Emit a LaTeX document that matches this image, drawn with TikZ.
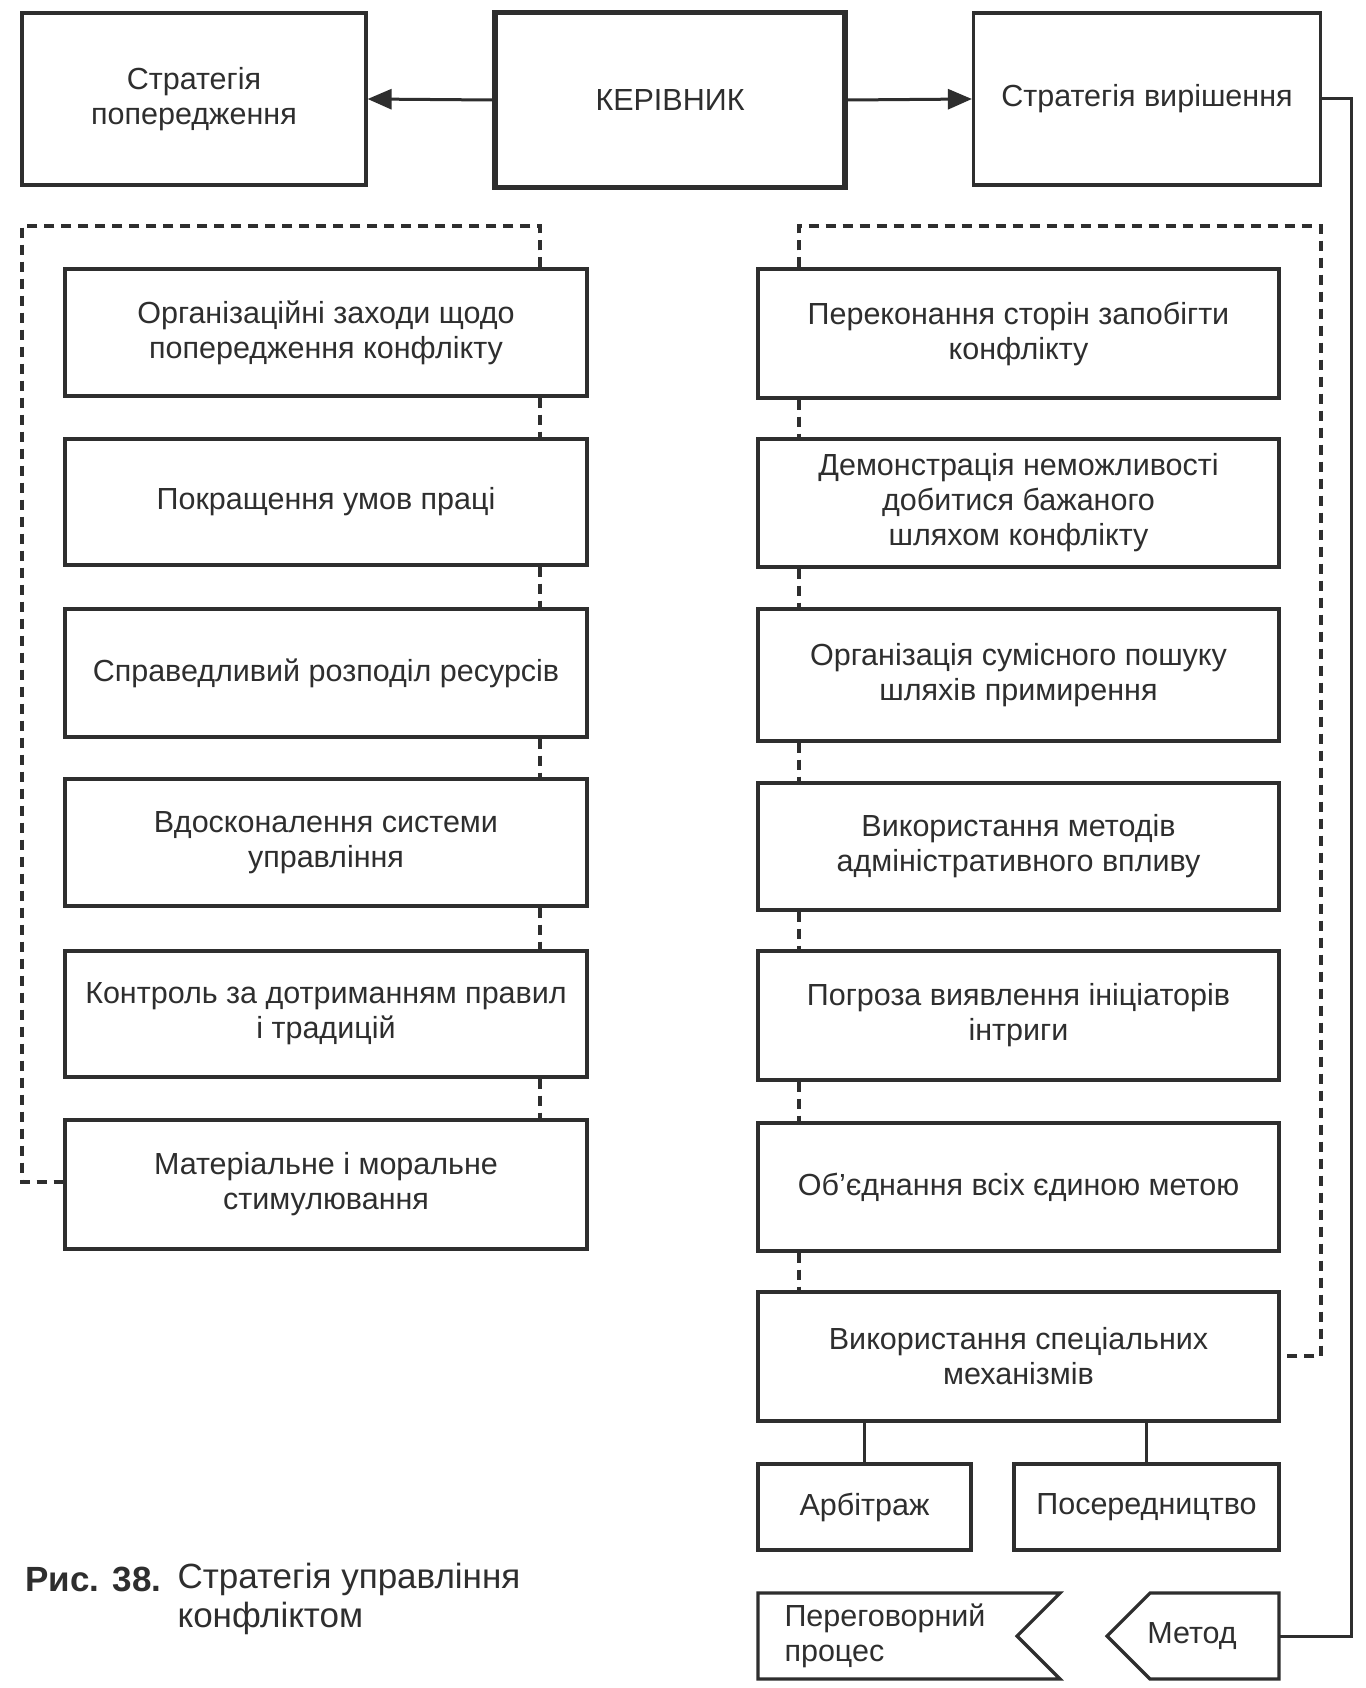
\documentclass[tikz,border=0pt]{standalone}
\usepackage{fontspec}
\setmainfont{Liberation Sans}
\usetikzlibrary{arrows.meta}
\definecolor{ink}{HTML}{2E2E2E}
\begin{document}
\begin{tikzpicture}[x=1pt,y=-1pt,
  every node/.style={text=ink, font=\fontsize{30.5}{35}\selectfont},
  box/.style={draw=ink, line width=3.2pt, inner sep=0pt, align=center},
  bossbox/.style={box, line width=5.5pt},
  conn/.style={draw=ink, line width=3pt},
  arr/.style={conn, -{Triangle[length=24pt,width=20pt]}},
  dashline/.style={draw=ink, line width=3.8pt, dash pattern=on 10pt off 7pt},
  capt/.style={anchor=west, font=\fontsize{35}{39}\selectfont}]
\useasboundingbox (0,0) rectangle (1365,1688);
\fill[white] (0,0) rectangle (1365,1688);

% top row
\node[box, minimum width=344pt, minimum height=172pt] (P0) at (194,99) {Стратегія\\попередження};
\node[bossbox, minimum width=350pt, minimum height=175pt] (K) at (670,100) {КЕРІВНИК};
\node[box, minimum width=347pt, minimum height=172pt] (R0) at (1147,99) {Стратегія вирішення};
\draw[arr] (K.west) -- (P0.east);
\draw[arr] (K.east) -- (R0.west);

% left column
\coordinate (xL) at (540,0);
\node[box, minimum width=522pt, minimum height=127pt] (L1) at (326,332.5) {Організаційні заходи щодо\\попередження конфлікту};
\node[box, minimum width=522pt, minimum height=126pt] (L2) at (326,502) {Покращення умов праці};
\node[box, minimum width=522pt, minimum height=128pt] (L3) at (326,673) {Справедливий розподіл ресурсів};
\node[box, minimum width=522pt, minimum height=127pt] (L4) at (326,842.5) {Вдосконалення системи\\управління};
\node[box, minimum width=522pt, minimum height=126pt] (L5) at (326,1014) {Контроль за дотриманням правил\\і традицій};
\node[box, minimum width=522pt, minimum height=129pt] (L6) at (326,1184.5) {Матеріальне і моральне\\стимулювання};

% right column
\coordinate (xR) at (799,0);
\node[box, minimum width=521pt, minimum height=129pt] (R1) at (1018.5,333.5) {Переконання сторін запобігти\\конфлікту};
\node[box, minimum width=521pt, minimum height=128pt] (R2) at (1018.5,503) {Демонстрація неможливості\\добитися бажаного\\шляхом конфлікту};
\node[box, minimum width=521pt, minimum height=132pt] (R3) at (1018.5,675) {Організація сумісного пошуку\\шляхів примирення};
\node[box, minimum width=521pt, minimum height=127pt] (R4) at (1018.5,846.5) {Використання методів\\адміністративного впливу};
\node[box, minimum width=521pt, minimum height=129pt] (R5) at (1018.5,1015.5) {Погроза виявлення ініціаторів\\інтриги};
\node[box, minimum width=521pt, minimum height=128pt] (R6) at (1018.5,1187) {Об’єднання всіх єдиною метою};
\node[box, minimum width=521pt, minimum height=129pt] (R7) at (1018.5,1356.5) {Використання спеціальних\\механізмів};

\node[box, minimum width=213pt, minimum height=86pt] (A) at (864.5,1507) {Арбітраж};
\node[box, minimum width=265pt, minimum height=86pt] (S) at (1146.5,1507) {Посередництво};
\draw[conn] (A.north |- R7.south) -- (A.north);
\draw[conn] (S.north |- R7.south) -- (S.north);

% dashed links, left
\coordinate (LtopR) at (540,226);
\coordinate (LtopL) at (22,226);
\coordinate (LbotL) at (22,1182);
\draw[dashline] (L1.north -| xL) -- (LtopR) -- (LtopL) -- (LbotL) -- (LbotL -| L6.west);
\draw[dashline] (L1.south -| xL) -- (L2.north -| xL);
\draw[dashline] (L2.south -| xL) -- (L3.north -| xL);
\draw[dashline] (L3.south -| xL) -- (L4.north -| xL);
\draw[dashline] (L4.south -| xL) -- (L5.north -| xL);
\draw[dashline] (L5.south -| xL) -- (L6.north -| xL);

% dashed links, right
\coordinate (RtopL) at (799,226);
\coordinate (RtopR) at (1321,226);
\coordinate (RbotR) at (1321,1356);
\draw[dashline] (R1.north -| xR) -- (RtopL) -- (RtopR) -- (RbotR) -- (RbotR -| R7.east);
\draw[dashline] (R1.south -| xR) -- (R2.north -| xR);
\draw[dashline] (R2.south -| xR) -- (R3.north -| xR);
\draw[dashline] (R3.south -| xR) -- (R4.north -| xR);
\draw[dashline] (R4.south -| xR) -- (R5.north -| xR);
\draw[dashline] (R5.south -| xR) -- (R6.north -| xR);
\draw[dashline] (R6.south -| xR) -- (R7.north -| xR);

% bottom pennants
\draw[conn, line width=3.2pt, line join=miter] (758,1593) -- (1060,1593) -- (1017,1636) -- (1060,1679) -- (758,1679) -- cycle;
\node[anchor=west, align=left] (N) at (781,1636) {Переговорний\\процес};
\draw[conn, line width=3.2pt, line join=miter] (1107,1636) -- (1150,1593) -- (1279,1593) -- (1279,1679) -- (1150,1679) -- cycle;
\node (M) at (1192,1636) {Метод};
\coordinate (Mr) at (1279,1636);
\coordinate (Rc) at (1351,1636);
\draw[conn] (R0.east) -| (Rc) -- (Mr);

% caption
\node[capt] (cap1) at (22,1579) {\textbf{Рис. 38.}};
\node[capt] (cap2) at (174,1579) {Стратегія управління};
\node[capt] (cap3) at (174,1618) {конфліктом};
\end{tikzpicture}
\end{document}
